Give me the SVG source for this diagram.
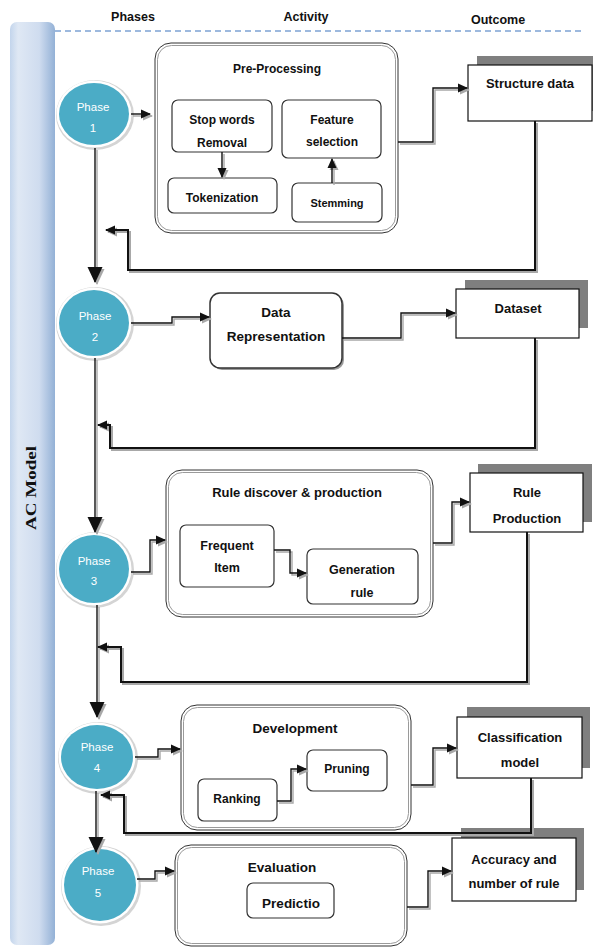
<svg xmlns="http://www.w3.org/2000/svg" xmlns:xlink="http://www.w3.org/1999/xlink" width="593" height="949" viewBox="0 0 593 949">
<style>
text{font-family:"Liberation Sans",Arial,sans-serif;font-weight:bold;fill:#111;text-anchor:middle}
.hdr{font-size:12.5px}
.ph{font-size:11.5px;font-weight:normal;fill:#fff}
.t12{font-size:12px}
.t13{font-size:13px}
.t135{font-size:13.5px}
.cont-o{fill:#fff;stroke:#333;stroke-width:1}
.cont-i{fill:none;stroke:#9a9a9a;stroke-width:1}
.sub{fill:#fff;stroke:#333;stroke-width:1.2}
.sub-sh{fill:#bdbdbd}
.out{fill:#fff;stroke:#111;stroke-width:1.2}
.out-sh{fill:#7f7f7f}
.ln{fill:none;stroke:#111;stroke-width:1.4}
.ln-sh{fill:none;stroke:#a8a8a8;stroke-width:1.4}
.fb{fill:none;stroke:#111;stroke-width:2}
.fb-sh{fill:none;stroke:#a8a8a8;stroke-width:2}
</style>
<defs>
<linearGradient id="bar" x1="0" y1="0" x2="1" y2="0">
<stop offset="0" stop-color="#c3d5ec"/>
<stop offset="0.18" stop-color="#dfe8f4"/>
<stop offset="0.65" stop-color="#cfdcef"/>
<stop offset="1" stop-color="#93b1d6"/>
</linearGradient>
<marker id="sm" markerUnits="userSpaceOnUse" markerWidth="10" markerHeight="10" refX="9" refY="5" orient="auto">
<path d="M0,0.5 L10,5 L0,9.5 z" fill="#111"/>
</marker>
<marker id="sm-s" markerUnits="userSpaceOnUse" markerWidth="10" markerHeight="10" refX="9" refY="5" orient="auto">
<path d="M0,0.5 L10,5 L0,9.5 z" fill="#a8a8a8"/>
</marker>
<marker id="big" markerUnits="userSpaceOnUse" markerWidth="16" markerHeight="16" refX="15" refY="8" orient="auto">
<path d="M0,0.5 L16,8 L0,15.5 z" fill="#111"/>
</marker>
<marker id="big-s" markerUnits="userSpaceOnUse" markerWidth="16" markerHeight="16" refX="15" refY="8" orient="auto">
<path d="M0,0.5 L16,8 L0,15.5 z" fill="#a8a8a8"/>
</marker>
<path id="p1" d="M131,114 H150"/>
<path id="p2" d="M398,142 H433 V88 H467"/>
<path id="p3" d="M222,152 V177"/>
<path id="p4" d="M332,183 V159"/>
<path id="p5" d="M95,148 V282"/>
<path id="p6" d="M535,121 V270 H128 V230 H106"/>
<path id="p7" d="M131,323 H172 V317 H209"/>
<path id="p8" d="M342,338 H401 V313 H455"/>
<path id="p9" d="M95,358 V532"/>
<path id="p10" d="M535,338 V448 H110 V425 H98"/>
<path id="p11" d="M131,572 H150 V540 H165"/>
<path id="p12" d="M274,550 H290 V573 H306"/>
<path id="p13" d="M433,543 H452 V502 H469"/>
<path id="p14" d="M97,605 V717"/>
<path id="p15" d="M527,532 V682 H121 V647 H98"/>
<path id="p16" d="M135,757 H158 V749 H180"/>
<path id="p17" d="M277,801 H291 V769 H306"/>
<path id="p18" d="M411,785 H433 V748 H456"/>
<path id="p19" d="M96,791 V852"/>
<path id="p20" d="M531,778 V833 H124 V795 H101"/>
<path id="p21" d="M137,879 H155 V871 H174"/>
<path id="p22" d="M407,907 H428 V871 H451"/>
</defs>
<rect width="593" height="949" fill="#fff"/>

<g id="lane">
<rect x="10" y="22" width="45" height="923" rx="7" fill="url(#bar)"/>
<text transform="translate(36,488) rotate(-90)" style="font-family:'Liberation Serif','Times New Roman',serif;font-size:15px" textLength="84" lengthAdjust="spacingAndGlyphs">AC Model</text>
<line x1="55" y1="31" x2="582" y2="31" stroke="#7ea3d4" stroke-width="1.5" stroke-dasharray="6,4"/>
<text class="hdr" x="133" y="21">Phases</text>
<text class="hdr" x="306" y="21">Activity</text>
<text class="hdr" x="498" y="24">Outcome</text>
</g>

<g id="phase1">
<ellipse cx="95" cy="115" rx="39" ry="35" fill="#d4d4d4"/>
<ellipse cx="94" cy="114" rx="37.5" ry="33.5" fill="#fff"/>
<ellipse cx="94" cy="114" rx="35" ry="31" fill="#4bacc6"/>
<text class="ph" x="93" y="111">Phase</text>
<text class="ph" x="93" y="132">1</text>
</g>
<g id="phase2">
<ellipse cx="95" cy="324" rx="39" ry="37" fill="#d4d4d4"/>
<ellipse cx="94" cy="323" rx="37.5" ry="35.5" fill="#fff"/>
<ellipse cx="94" cy="323" rx="35" ry="33" fill="#4bacc6"/>
<text class="ph" x="95" y="320">Phase</text>
<text class="ph" x="95" y="341">2</text>
</g>
<g id="phase3">
<ellipse cx="95" cy="570" rx="39" ry="38" fill="#d4d4d4"/>
<ellipse cx="94" cy="569" rx="37.5" ry="36.5" fill="#fff"/>
<ellipse cx="94" cy="569" rx="35" ry="34" fill="#4bacc6"/>
<text class="ph" x="94" y="565">Phase</text>
<text class="ph" x="94" y="585">3</text>
</g>
<g id="phase4">
<ellipse cx="98" cy="758" rx="40" ry="36" fill="#d4d4d4"/>
<ellipse cx="97" cy="757" rx="38.5" ry="34.5" fill="#fff"/>
<ellipse cx="97" cy="757" rx="36" ry="32" fill="#4bacc6"/>
<text class="ph" x="97" y="751">Phase</text>
<text class="ph" x="97" y="772">4</text>
</g>
<g id="phase5">
<ellipse cx="101" cy="886" rx="40" ry="40" fill="#d4d4d4"/>
<ellipse cx="100" cy="885" rx="38.5" ry="38.5" fill="#fff"/>
<ellipse cx="100" cy="885" rx="36" ry="36" fill="#4bacc6"/>
<text class="ph" x="98" y="875">Phase</text>
<text class="ph" x="98" y="897">5</text>
</g>

<g id="preprocessing">
<rect class="cont-o" x="155" y="43" width="243" height="190" rx="16"/>
<rect class="cont-i" x="157.5" y="45.5" width="238" height="185" rx="14"/>
<text class="t12" x="277" y="73">Pre-Processing</text>
</g>
<g id="stopwords">
<rect class="sub" x="172" y="100" width="100" height="52" rx="6"/>
<text class="t12" x="222" y="124">Stop words</text>
<text class="t12" x="222" y="147">Removal</text>
</g>
<g id="tokenization">
<rect class="sub" x="168" y="178" width="109" height="35" rx="6"/>
<text class="t12" x="222" y="202">Tokenization</text>
</g>
<g id="feature">
<rect class="sub" x="282" y="100" width="99" height="58" rx="6"/>
<text class="t12" x="332" y="124">Feature</text>
<text class="t12" x="332" y="146">selection</text>
</g>
<g id="stemming">
<rect class="sub" x="292" y="183" width="90" height="39" rx="6"/>
<text x="337" y="207" style="font-size:11px">Stemming</text>
</g>

<g id="datarep">
<rect x="212" y="295" width="132" height="75" rx="10" fill="#9a9a9a"/>
<rect x="210" y="293" width="132" height="75" rx="10" fill="#fff" stroke="#333" stroke-width="1.5"/>
<text class="t135" x="276" y="317">Data</text>
<text class="t135" x="276" y="341">Representation</text>
</g>

<g id="rulediscover">
<rect class="cont-o" x="166" y="470" width="267" height="147" rx="16"/>
<rect class="cont-i" x="168.5" y="472.5" width="262" height="142" rx="14"/>
<text class="t13" x="297" y="497">Rule discover &amp; production</text>
</g>
<g id="frequent">
<rect class="sub" x="180" y="525" width="94" height="62" rx="6"/>
<text x="227" y="550" style="font-size:12.5px">Frequent</text>
<text x="227" y="572" style="font-size:12.5px">Item</text>
</g>
<g id="generation">
<rect class="sub" x="307" y="549" width="111" height="55" rx="6"/>
<text x="362" y="574" style="font-size:12.5px">Generation</text>
<text x="362" y="597" style="font-size:12.5px">rule</text>
</g>

<g id="development">
<rect class="cont-o" x="181" y="705" width="230" height="125" rx="16"/>
<rect class="cont-i" x="183.5" y="707.5" width="225" height="120" rx="14"/>
<text class="t135" x="295" y="733">Development</text>
</g>
<g id="ranking">
<rect class="sub" x="198" y="779" width="79" height="42" rx="6"/>
<text class="t12" x="237" y="803">Ranking</text>
</g>
<g id="pruning">
<rect class="sub" x="307" y="750" width="80" height="41" rx="6"/>
<text class="t12" x="347" y="773">Pruning</text>
</g>

<g id="evaluation">
<rect class="cont-o" x="175" y="845" width="232" height="101" rx="16"/>
<rect class="cont-i" x="177.5" y="847.5" width="227" height="96" rx="14"/>
<text class="t135" x="282" y="872">Evaluation</text>
</g>
<g id="predictio">
<rect class="sub" x="247" y="883" width="87" height="35" rx="6"/>
<text class="t135" x="291" y="908">Predictio</text>
</g>

<g id="structuredata">
<rect class="out-sh" x="477" y="56" width="124" height="55"/>
<rect class="out" x="468" y="65" width="124" height="56"/>
<text class="t13" x="530" y="88">Structure data</text>
</g>
<g id="dataset">
<rect class="out-sh" x="465" y="280" width="123" height="48"/>
<rect class="out" x="456" y="289" width="123" height="49"/>
<text class="t13" x="518" y="313">Dataset</text>
</g>
<g id="ruleproduction">
<rect class="out-sh" x="478" y="464" width="114" height="58"/>
<rect class="out" x="470" y="473" width="113" height="59"/>
<text class="t13" x="527" y="497">Rule</text>
<text class="t13" x="527" y="523">Production</text>
</g>
<g id="classification">
<rect class="out-sh" x="467" y="707" width="123" height="61"/>
<rect class="out" x="457" y="717" width="125" height="61"/>
<text class="t13" x="520" y="742">Classification</text>
<text class="t13" x="520" y="767">model</text>
</g>
<g id="accuracy">
<rect class="out-sh" x="461" y="828" width="123" height="62"/>
<rect class="out" x="452" y="838" width="124" height="63"/>
<text class="t13" x="514" y="864">Accuracy and</text>
<text class="t13" x="514" y="888">number of rule</text>
</g>

<g id="connectors">
<g transform="translate(2,2)">
<use xlink:href="#p1" class="ln-sh" marker-end="url(#sm-s)"/>
<use xlink:href="#p2" class="ln-sh" marker-end="url(#sm-s)"/>
<use xlink:href="#p3" class="ln-sh" marker-end="url(#sm-s)"/>
<use xlink:href="#p4" class="ln-sh" marker-end="url(#sm-s)"/>
<use xlink:href="#p5" class="ln-sh" marker-end="url(#big-s)"/>
<use xlink:href="#p6" class="fb-sh" marker-end="url(#sm-s)"/>
<use xlink:href="#p7" class="ln-sh" marker-end="url(#sm-s)"/>
<use xlink:href="#p8" class="ln-sh" marker-end="url(#sm-s)"/>
<use xlink:href="#p9" class="ln-sh" marker-end="url(#big-s)"/>
<use xlink:href="#p10" class="fb-sh" marker-end="url(#sm-s)"/>
<use xlink:href="#p11" class="ln-sh" marker-end="url(#sm-s)"/>
<use xlink:href="#p12" class="ln-sh" marker-end="url(#sm-s)"/>
<use xlink:href="#p13" class="ln-sh" marker-end="url(#sm-s)"/>
<use xlink:href="#p14" class="ln-sh" marker-end="url(#big-s)"/>
<use xlink:href="#p15" class="fb-sh" marker-end="url(#sm-s)"/>
<use xlink:href="#p16" class="ln-sh" marker-end="url(#sm-s)"/>
<use xlink:href="#p17" class="ln-sh" marker-end="url(#sm-s)"/>
<use xlink:href="#p18" class="ln-sh" marker-end="url(#sm-s)"/>
<use xlink:href="#p19" class="ln-sh" marker-end="url(#big-s)"/>
<use xlink:href="#p20" class="fb-sh" marker-end="url(#sm-s)"/>
<use xlink:href="#p21" class="ln-sh" marker-end="url(#sm-s)"/>
<use xlink:href="#p22" class="ln-sh" marker-end="url(#sm-s)"/>
</g>
<use xlink:href="#p1" class="ln" marker-end="url(#sm)"/>
<use xlink:href="#p2" class="ln" marker-end="url(#sm)"/>
<use xlink:href="#p3" class="ln" marker-end="url(#sm)"/>
<use xlink:href="#p4" class="ln" marker-end="url(#sm)"/>
<use xlink:href="#p5" class="ln" marker-end="url(#big)"/>
<use xlink:href="#p6" class="fb" marker-end="url(#sm)"/>
<use xlink:href="#p7" class="ln" marker-end="url(#sm)"/>
<use xlink:href="#p8" class="ln" marker-end="url(#sm)"/>
<use xlink:href="#p9" class="ln" marker-end="url(#big)"/>
<use xlink:href="#p10" class="fb" marker-end="url(#sm)"/>
<use xlink:href="#p11" class="ln" marker-end="url(#sm)"/>
<use xlink:href="#p12" class="ln" marker-end="url(#sm)"/>
<use xlink:href="#p13" class="ln" marker-end="url(#sm)"/>
<use xlink:href="#p14" class="ln" marker-end="url(#big)"/>
<use xlink:href="#p15" class="fb" marker-end="url(#sm)"/>
<use xlink:href="#p16" class="ln" marker-end="url(#sm)"/>
<use xlink:href="#p17" class="ln" marker-end="url(#sm)"/>
<use xlink:href="#p18" class="ln" marker-end="url(#sm)"/>
<use xlink:href="#p19" class="ln" marker-end="url(#big)"/>
<use xlink:href="#p20" class="fb" marker-end="url(#sm)"/>
<use xlink:href="#p21" class="ln" marker-end="url(#sm)"/>
<use xlink:href="#p22" class="ln" marker-end="url(#sm)"/>
</g>
</svg>
